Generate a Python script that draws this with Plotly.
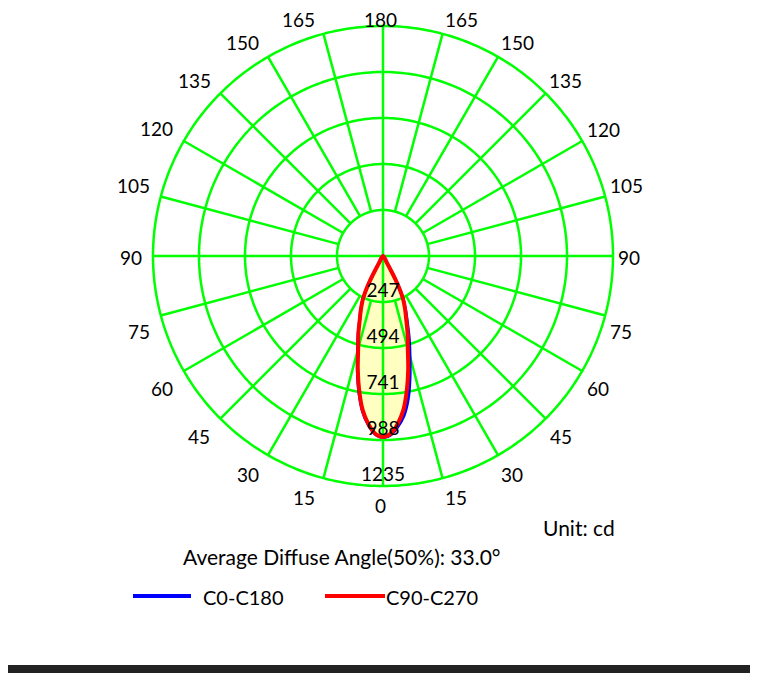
import numpy as np
import plotly.graph_objects as go

# luminous intensity (cd) vs angle from nadir
angles = [0, 2.5, 5, 7.5, 10, 12.5, 15, 17.5, 20, 22.5, 25, 27.5, 30, 32.5]
c0 = [975, 962, 920, 865, 780, 670, 560, 470, 385, 320, 258, 170, 40, 0]      # right half
c180 = [975, 958, 910, 842, 745, 635, 525, 445, 368, 312, 255, 165, 40, 0]    # left half
c90_c270 = [972, 955, 905, 835, 735, 625, 515, 440, 365, 310, 255, 165, 40, 0]

ring_values = [247, 494, 741, 988, 1235]
tick_angles = list(range(0, 360, 15))
tick_labels = [str(min(a, 360 - a)) for a in tick_angles]

# page body has an 8px margin, so the figure is drawn offset by 8px
OFF = 8
W, H = 758 - OFF, 673 - OFF
CX, CY, RPX = 383, 256, 230   # polar centre / outer ring radius on the page
EXT = 1.01                    # a little headroom so the outer ring is not clipped
GREEN = "#00ff00"
FONT = "Lato"


def join(left, right):
    th = [-a for a in angles[::-1]] + angles[1:]
    r = left[::-1] + right[1:]
    return th, r


def px(x):
    return (x - OFF) / W


def py(y):
    return 1 - (y - OFF) / H


rmax = ring_values[-1]
fig = go.Figure()

# yellow fill under the grid
th_b, r_b = join(c180, c0)
fig.add_trace(go.Scatterpolar(theta=th_b, r=r_b, mode="lines", fill="toself",
                              fillcolor="#ffffc2", line=dict(width=0, shape="spline"),
                              hoverinfo="skip", showlegend=False))

# rings
circ = np.linspace(0, 360, 361)
for rv in ring_values:
    fig.add_trace(go.Scatterpolar(theta=circ, r=[rv] * len(circ), mode="lines",
                                  line=dict(color=GREEN, width=2.5), cliponaxis=False,
                                  hoverinfo="skip", showlegend=False))

# spokes: start at first ring, except the two axes through centre
sp_th, sp_r = [], []
for a in tick_angles:
    sp_th += [a, a, None]
    sp_r += [0 if a % 90 == 0 else ring_values[0], rmax, None]
fig.add_trace(go.Scatterpolar(theta=sp_th, r=sp_r, mode="lines",
                              line=dict(color=GREEN, width=2.5), cliponaxis=False,
                              hoverinfo="skip", showlegend=False))

# curves
fig.add_trace(go.Scatterpolar(theta=th_b, r=r_b, mode="lines", name="C0-C180",
                              line=dict(color="#0000ff", width=3, shape="spline"),
                              showlegend=False))
th_r, r_r = join(c90_c270, c90_c270)
fig.add_trace(go.Scatterpolar(theta=th_r, r=r_r, mode="lines", name="C90-C270",
                              line=dict(color="#ff0000", width=4, shape="spline"),
                              showlegend=False))

# ring value labels
fig.add_trace(go.Scatterpolar(theta=[0] * len(ring_values), r=ring_values, mode="text",
                              text=[str(v) for v in ring_values], textposition="top center",
                              textfont=dict(family=FONT, size=19, color="black"),
                              cliponaxis=False, hoverinfo="skip", showlegend=False))

annotations = []
# angle labels around the outer ring
for a, lab in zip(tick_angles, tick_labels):
    s, c = np.sin(np.radians(a)), np.cos(np.radians(a))
    w = 10.3 * len(lab)
    dx = -3 + np.sign(round(s, 6)) * (w / 2 + 5 + 4 * abs(s))
    dy = 2 + np.sign(round(c, 6)) * (12 + 5 * abs(c)) if abs(c) > 1e-6 else 1
    x = CX + RPX * s + dx
    y = max(CY + RPX * c + dy, 18.5)
    annotations.append(dict(text=lab, x=px(x), y=py(y), height=20,
                            xref="paper", yref="paper", xanchor="center", yanchor="middle",
                            showarrow=False, font=dict(size=19)))

annotations += [
    dict(text="Unit: cd", x=px(541), y=py(527), xref="paper", yref="paper",
         xanchor="left", yanchor="middle", showarrow=False),
    dict(text="Average Diffuse Angle(50%): 33.0°", x=px(181), y=py(556),
         xref="paper", yref="paper", xanchor="left", yanchor="middle", showarrow=False),
    dict(text="C0-C180", x=px(201), y=py(597), xref="paper", yref="paper",
         xanchor="left", yanchor="middle", showarrow=False, font=dict(size=20)),
    dict(text="C90-C270", x=px(384), y=py(597), xref="paper", yref="paper",
         xanchor="left", yanchor="middle", showarrow=False, font=dict(size=20)),
]

R_DOM = RPX * EXT
fig.update_layout(
    width=W, height=H,
    margin=dict(l=0, r=0, t=0, b=0),
    paper_bgcolor="white",
    font=dict(family=FONT, size=21, color="black"),
    polar=dict(
        domain=dict(x=[px(CX - R_DOM), px(CX + R_DOM)], y=[py(CY + R_DOM), py(CY - R_DOM)]),
        bgcolor="rgba(0,0,0,0)",
        radialaxis=dict(range=[0, rmax * EXT], visible=False, showgrid=False),
        angularaxis=dict(rotation=-90, direction="counterclockwise",
                         showgrid=False, showline=False, ticks="", showticklabels=False),
    ),
    annotations=annotations,
    shapes=[
        dict(type="line", xref="paper", yref="paper", x0=px(133), x1=px(191),
             y0=py(596), y1=py(596), line=dict(color="#0000ff", width=4)),
        dict(type="line", xref="paper", yref="paper", x0=px(325), x1=px(385),
             y0=py(596), y1=py(596), line=dict(color="#ff0000", width=4)),
        dict(type="rect", xref="paper", yref="paper", x0=0, x1=1,
             y0=py(673), y1=py(665), fillcolor="#222222", line=dict(width=0)),
    ],
)

fig.write_html("out.html")
